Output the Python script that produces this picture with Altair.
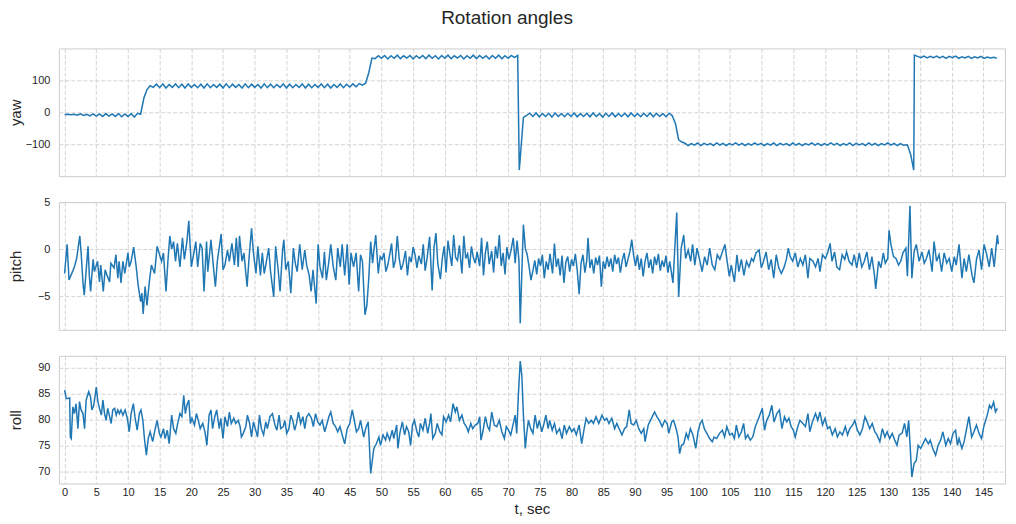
import altair as alt
import pandas as pd

FONT = "Liberation Sans"
LINE = "#1f77b4"
TEXT = "#262626"

# x axis
x_ticks = list(range(0, 150, 5))
x_domain = [-0.9, 148.4]

# yaw: segments (start time, values sampled every yaw_step seconds)
yaw_step = 0.5
yaw_segments = [
    (0.0, [-6, -5, -7, -5, -8, -4, -9, -5, -10, -4, -11, -4, -12, -3, -11, -4, -12, -3, -13, -4,
           -12, -3, -14, -2, -5]),
    (12.5, [45, 72, 84]),
    (14.0, [79, 89, 78, 90, 77, 88, 79, 90, 78, 89, 77, 90, 79, 88, 78, 89, 77, 90, 78, 88,
            79, 89, 77, 90, 78, 89, 79, 88, 77, 90, 78, 89, 79, 88, 77, 90, 78, 89, 78, 88,
            79, 90, 77, 89, 78, 88, 79, 90, 77, 89, 78, 88, 79, 90, 78, 89, 77, 88, 79, 90,
            78, 89, 80, 90, 81, 91]),
    (47.0, [86, 92, 125, 171]),
    (49.0, [169, 178, 170, 179, 168, 178, 170, 180, 169, 178, 171, 179, 168, 178, 170, 179,
            169, 180, 170, 178, 168, 179, 170, 180, 169, 178, 171, 179, 168, 178, 170, 180,
            169, 179, 170, 178, 168, 179, 170, 180, 169, 178, 170, 179, 172, 179]),
    (71.75, [-180]),
    (72.4, [-15, -9]),
    (73.4, [-2, -12, -1, -13, -3, -12, -2, -14, -1, -12, -3, -13, -2, -12, -1, -13, -3, -12,
            -2, -13, -1, -12, -3, -14, -2, -12, -1, -13, -3, -12, -2, -13, -1, -12, -3, -13,
            -2, -12, -1, -13, -2, -12, -3, -13, -2, -10]),
    (96.4, [-35, -85, -92]),
    (97.9, [-96, -103, -97, -102, -95, -103, -96, -101, -97, -103, -95, -102, -96, -103, -97, -101,
            -95, -102, -96, -103, -97, -102, -95, -101, -96, -103, -97, -102, -95, -103, -96, -101,
            -97, -103, -95, -102, -96, -103, -97, -101, -95, -102, -96, -103, -97, -102, -95, -101,
            -96, -103, -97, -102, -95, -103, -96, -101, -97, -103, -95, -102, -96, -103, -97, -101,
            -95, -102, -96, -103, -97, -102]),
    (133.0, [-101, -130, -180]),
    (134.1, [180, 176, 172, 177, 171, 176, 172, 177, 171, 176, 170, 176, 172, 177, 170, 175,
             171, 176, 170, 175, 171, 176, 170, 174, 171, 173, 170]),
]

# pitch readings (t, degrees)
pitch = [
    (0.0, -2.6), (0.4, 0.5), (0.7, -3.3), (1.0, -2.8), (1.5, -2.0), (1.9, -1.0), (2.4, 1.4),
    (2.6, -0.3), (2.9, -3.6), (3.1, -4.9), (3.7, 0.3), (3.9, -2.8), (4.1, -4.5), (4.5, -1.1),
    (4.7, -2.4), (5.2, -1.3), (5.5, -3.5), (5.7, -1.7), (6.1, -4.5), (6.4, -2.2), (6.7, -2.8),
    (7.1, -3.5), (7.3, -1.5), (7.8, -2.0), (8.1, -0.6), (8.4, -3.1), (8.6, -1.3), (8.9, -3.6),
    (9.2, -1.3), (9.5, -2.6), (10.0, -0.4), (10.2, -1.9), (10.5, -1.3), (10.9, 0.2), (11.3, -1.9),
    (11.6, -3.8), (12.0, -5.6), (12.2, -4.7), (12.4, -6.9), (12.7, -4.0), (13.0, -6.0), (13.4, -3.3),
    (13.7, -1.7), (14.2, -2.6), (14.6, 0.3), (14.9, -0.4), (15.3, -1.3), (15.6, -0.4), (16.0, -4.5),
    (16.3, -1.3), (16.6, 1.4), (16.9, 0.0), (17.2, 0.8), (17.5, -1.3), (17.8, 0.6), (18.2, -1.9),
    (18.6, 1.2), (18.9, -1.1), (19.3, 0.8), (19.6, 3.0), (19.8, 0.5), (20.0, -1.9), (20.4, -0.4),
    (20.7, 0.8), (21.0, -1.9), (21.4, 0.6), (21.7, 0.1), (22.0, -4.5), (22.4, 0.8), (22.6, -2.4),
    (23.1, 1.0), (23.5, -2.0), (23.8, -4.0), (24.1, -1.3), (24.7, 1.6), (25.0, -2.2), (25.3, -1.7),
    (25.7, -0.1), (26.0, -1.3), (26.4, 0.6), (26.8, -1.7), (27.1, 1.2), (27.4, -1.9), (27.6, 1.4),
    (28.0, -1.3), (28.3, -0.4), (28.8, -4.0), (29.1, -1.0), (29.5, 2.2), (29.8, -0.4), (30.2, -2.6),
    (30.5, 0.3), (30.9, -2.8), (31.2, -0.4), (31.5, -2.6), (31.8, -1.5), (32.2, 0.1), (32.5, -2.4),
    (33.0, -5.1), (33.3, 0.3), (33.7, -2.2), (34.0, -4.5), (34.4, -0.1), (34.6, 1.0), (34.9, -2.2),
    (35.3, -1.3), (35.7, -4.7), (36.1, 0.1), (36.4, -1.5), (36.7, -2.4), (37.1, 0.5), (37.5, -2.2),
    (37.9, -0.1), (38.2, -1.7), (38.6, -2.8), (38.9, -4.5), (39.2, -2.2), (39.7, -5.8), (40.0, 0.5),
    (40.3, -1.9), (40.7, -3.1), (41.0, -0.3), (41.3, -3.3), (41.7, -1.3), (42.0, 0.5), (42.4, -1.9),
    (42.8, -3.3), (43.1, 0.1), (43.5, -1.9), (43.8, 0.5), (44.2, -2.8), (44.6, 0.5), (44.9, -3.8),
    (45.2, -0.4), (45.6, -1.9), (46.0, -0.4), (46.4, -4.5), (46.7, -0.6), (47.0, -1.3), (47.4, -7.0),
    (47.7, -6.0), (48.0, -3.1), (48.3, 0.8), (48.6, -1.5), (48.8, -0.2), (49.1, 1.5), (49.5, -2.6),
    (49.8, -0.8), (50.1, -1.1), (50.4, -0.4), (50.7, -2.4), (51.0, -1.7), (51.3, -0.6), (51.6, 0.6),
    (51.9, -2.0), (52.2, -1.2), (52.5, 1.4), (52.8, -1.0), (53.1, -2.2), (53.4, -1.6), (53.8, -0.2),
    (54.1, -2.8), (54.4, -0.8), (54.7, -1.4), (55.0, 0.2), (55.3, -0.6), (55.6, -2.0), (55.9, -0.7),
    (56.3, -1.6), (56.6, 0.5), (56.9, -2.3), (57.2, -1.0), (57.6, 1.3), (58.0, -4.4), (58.3, 0.2),
    (58.6, 1.7), (58.9, -1.6), (59.3, -3.2), (59.6, -1.0), (59.9, 0.3), (60.2, -2.5), (60.5, 0.9),
    (60.8, -0.5), (61.1, -1.8), (61.4, 1.5), (61.7, -0.9), (62.0, -1.2), (62.3, 0.4), (62.7, -2.6),
    (63.0, 1.4), (63.3, -1.0), (63.6, -0.5), (63.9, -2.0), (64.2, 0.3), (64.5, -0.9), (64.8, -1.5),
    (65.1, -0.3), (65.5, -1.8), (65.8, 1.2), (66.1, -2.8), (66.4, -0.4), (66.7, 0.8), (67.0, -1.6),
    (67.4, -0.2), (67.7, -2.5), (68.0, 0.3), (68.3, -1.0), (68.6, 1.5), (68.9, -1.8), (69.2, -0.4),
    (69.5, -2.7), (69.8, 0.2), (70.1, -1.1), (70.4, -0.3), (70.8, 1.2), (71.1, -1.5), (71.4, 0.9),
    (71.7, -1.2), (71.9, -7.9), (72.2, -1.5), (72.4, 2.6), (72.7, 0.1), (73.0, -0.6), (73.3, -1.9),
    (73.6, -3.3), (73.9, -2.3), (74.2, -1.2), (74.5, -2.7), (74.8, -1.0), (75.1, -1.8), (75.4, -0.6),
    (75.7, -3.1), (76.0, -1.3), (76.3, -2.2), (76.6, -0.5), (77.0, -2.6), (77.3, 0.6), (77.6, -1.9),
    (77.9, -1.0), (78.2, -2.8), (78.5, -0.7), (78.8, -3.6), (79.1, -1.4), (79.4, -0.8), (79.7, -2.4),
    (80.0, -1.1), (80.3, -1.8), (80.6, -0.5), (80.9, -2.3), (81.2, -4.8), (81.5, -1.5), (81.8, -0.6),
    (82.1, -2.5), (82.4, -1.2), (82.6, 1.2), (82.9, -2.0), (83.2, -1.1), (83.5, -2.6), (83.8, -0.9),
    (84.1, -1.7), (84.4, -0.7), (84.7, -4.0), (85.0, -1.3), (85.3, -2.1), (85.6, -0.8), (85.9, -1.9),
    (86.2, -1.0), (86.5, -2.4), (86.8, -0.6), (87.1, -1.6), (87.4, -0.9), (87.7, -2.5), (88.0, -1.2),
    (88.3, -0.4), (88.6, -1.9), (88.9, -1.1), (89.2, -0.3), (89.5, 1.0), (89.8, -0.7), (90.1, -1.8),
    (90.4, -0.6), (90.7, -2.2), (91.0, -1.0), (91.3, -2.9), (91.6, -1.3), (91.9, -0.4), (92.2, -2.0),
    (92.5, -1.1), (92.8, -2.6), (93.1, -0.8), (93.4, -1.7), (93.7, -0.5), (94.0, -2.3), (94.3, -1.2),
    (94.6, -1.9), (94.9, -0.7), (95.2, -2.5), (95.5, -1.3), (96.0, -3.6), (96.6, 3.9), (96.9, -5.1),
    (97.3, 0.1), (97.7, 1.5), (98.0, -1.0), (98.4, -0.1), (98.8, -1.3), (99.1, 0.5), (99.45, -1.7),
    (99.8, 0.1), (100.2, -1.1), (100.6, -2.4), (101.0, -0.8), (101.4, -1.7), (101.8, 0.1), (102.2, -1.7),
    (102.6, -2.2), (103.0, -0.6), (103.4, -1.1), (103.8, -0.3), (104.2, 0.5), (104.55, -1.3), (104.9, -2.9),
    (105.2, -1.7), (105.7, -3.5), (106.1, -0.6), (106.4, -2.4), (106.8, -1.1), (107.2, -2.8), (107.6, -1.3),
    (108.0, -1.9), (108.4, -1.0), (108.7, -1.3), (109.1, -0.4), (109.6, -0.1), (109.95, -2.0), (110.3, -1.3),
    (110.7, -0.3), (111.1, -2.2), (111.5, -1.1), (111.9, -3.1), (112.3, -0.6), (112.7, -2.0), (113.1, -2.6),
    (113.5, -2.0), (113.9, -1.1), (114.2, 0.1), (114.5, -0.8), (114.9, -1.3), (115.3, -0.4), (115.7, -1.9),
    (116.1, -1.0), (116.5, -1.7), (116.9, -0.6), (117.3, -3.1), (117.6, -1.0), (118.1, -1.3), (118.5, -1.9),
    (118.9, -1.0), (119.2, -2.4), (119.6, -0.6), (120.05, -1.0), (120.4, -0.4), (120.8, 0.6), (121.1, -1.3),
    (121.5, -0.3), (121.85, -1.9), (122.3, -2.2), (122.7, -0.6), (123.1, -1.1), (123.4, -0.3), (123.8, -1.3),
    (124.25, -1.7), (124.6, -0.6), (125.0, -2.0), (125.4, -0.4), (125.8, -1.9), (126.2, -1.3), (126.6, -0.3),
    (127.0, -2.2), (127.4, -0.8), (127.8, -2.8), (128.0, -4.25), (128.45, -1.3), (128.8, -2.0), (129.2, -0.4),
    (129.5, -1.5), (129.9, -1.0), (130.1, 2.0), (130.4, 0.5), (130.8, -0.8), (131.2, -1.0), (131.6, -1.7),
    (131.95, -1.3), (132.3, -0.4), (132.75, 0.1), (133.0, -2.9), (133.4, 4.6), (133.7, -3.1), (134.05, -0.3),
    (134.4, 0.5), (134.85, -1.3), (135.3, -0.3), (135.65, -1.5), (136.0, -1.0), (136.4, -0.1), (136.9, -2.4),
    (137.2, 0.8), (137.6, -1.3), (138.0, -0.6), (138.4, -2.4), (138.8, -0.4), (139.2, -1.5), (139.6, -1.0),
    (140.0, -2.4), (140.4, -0.8), (140.7, -1.7), (141.15, 0.5), (141.6, -3.1), (141.95, -1.0), (142.3, -2.4),
    (142.7, -0.6), (143.2, -2.8), (143.5, -3.6), (143.9, -1.1), (144.3, -0.1), (144.7, -2.2), (145.1, 0.5),
    (145.45, -0.4), (145.9, -1.9), (146.3, 0.1), (146.7, -1.9), (147.0, 0.3), (147.2, 1.5), (147.35, 0.5),
]

# roll readings (t, degrees)
roll = [
    (0.0, 85.7), (0.25, 84.1), (0.5, 84.1), (0.8, 84.2), (0.9, 76.7), (1.05, 76.4), (1.3, 82.5),
    (1.55, 81.2), (1.8, 83.1), (2.1, 78.3), (2.35, 83.5), (2.6, 81.9), (2.9, 81.2), (3.15, 78.3),
    (3.4, 83.8), (3.8, 85.4), (4.1, 84.4), (4.3, 81.9), (4.6, 82.8), (5.0, 86.3), (5.25, 83.5),
    (5.5, 82.2), (5.8, 80.9), (6.05, 83.8), (6.3, 81.2), (6.55, 79.9), (6.8, 82.2), (7.05, 80.9),
    (7.35, 79.3), (7.6, 81.9), (7.9, 82.2), (8.15, 80.9), (8.4, 81.9), (8.65, 81.2), (8.9, 81.9),
    (9.2, 80.9), (9.55, 81.9), (9.9, 80.3), (10.2, 77.7), (10.5, 81.2), (10.85, 83.1), (11.1, 80.6),
    (11.45, 78.0), (11.8, 81.2), (12.05, 81.9), (12.35, 79.9), (12.6, 76.4), (12.9, 73.2), (13.2, 76.4),
    (13.5, 77.7), (13.9, 75.8), (14.25, 78.0), (14.6, 79.9), (14.95, 77.4), (15.2, 76.7), (15.6, 78.3),
    (15.85, 76.4), (16.2, 78.0), (16.5, 75.4), (16.9, 80.9), (17.2, 78.3), (17.55, 77.4), (17.85, 79.3),
    (18.2, 81.2), (18.5, 80.6), (18.8, 84.7), (19.05, 81.2), (19.3, 82.8), (19.6, 83.8), (19.85, 79.3),
    (20.1, 80.3), (20.5, 79.0), (20.8, 81.2), (21.1, 79.9), (21.4, 78.3), (21.8, 79.3), (22.15, 77.7),
    (22.45, 75.1), (22.8, 80.9), (23.1, 81.9), (23.35, 78.3), (23.7, 80.6), (24.0, 81.9), (24.4, 78.3),
    (24.65, 80.3), (25.0, 76.4), (25.3, 80.6), (25.7, 78.7), (26.0, 81.5), (26.3, 79.3), (26.7, 80.3),
    (27.0, 79.3), (27.4, 79.9), (27.7, 78.7), (27.9, 76.7), (28.2, 77.4), (28.6, 78.7), (28.85, 80.9),
    (29.2, 79.3), (29.5, 76.7), (29.8, 79.6), (30.1, 78.3), (30.45, 76.7), (30.75, 80.9), (31.05, 78.3),
    (31.4, 77.1), (31.75, 79.6), (32.0, 78.3), (32.4, 80.6), (32.8, 81.2), (33.2, 79.0), (33.5, 78.0),
    (33.85, 80.9), (34.1, 78.3), (34.5, 78.7), (34.75, 79.9), (35.05, 77.4), (35.4, 78.3), (35.7, 80.9),
    (36.0, 79.9), (36.3, 78.0), (36.6, 79.3), (36.9, 81.5), (37.25, 79.3), (37.6, 80.6), (37.9, 78.3),
    (38.2, 80.6), (38.55, 81.2), (38.95, 80.3), (39.25, 78.7), (39.6, 81.2), (39.95, 79.6), (40.3, 79.0),
    (40.65, 79.9), (41.05, 77.7), (41.35, 79.0), (41.7, 80.6), (42.0, 81.5), (42.4, 79.3), (42.75, 78.7),
    (43.1, 77.7), (43.45, 78.7), (43.8, 77.1), (44.2, 75.4), (44.6, 78.3), (45.0, 79.3), (45.4, 81.9),
    (45.65, 80.3), (46.05, 77.7), (46.4, 78.3), (46.7, 79.9), (47.2, 76.7), (47.5, 78.3), (47.9, 79.6),
    (48.05, 76.4), (48.3, 69.7), (48.5, 71.6), (48.8, 74.5), (49.2, 75.4), (49.6, 76.7), (49.85, 75.1),
    (50.25, 77.1), (50.65, 76.1), (50.9, 77.4), (51.3, 76.1), (51.7, 78.0), (51.95, 76.4), (52.4, 79.0),
    (52.6, 74.5), (52.9, 77.4), (53.3, 79.6), (53.65, 77.1), (53.95, 78.7), (54.3, 77.7), (54.6, 75.1),
    (54.9, 79.0), (55.2, 79.9), (55.6, 77.7), (55.9, 76.7), (56.15, 79.3), (56.55, 78.0), (56.9, 80.3),
    (57.3, 77.4), (57.6, 79.3), (57.8, 81.2), (58.1, 76.4), (58.5, 77.4), (58.8, 79.3), (59.2, 77.7),
    (59.55, 77.1), (59.8, 80.6), (60.2, 79.6), (60.6, 80.9), (60.9, 79.6), (61.3, 83.1), (61.65, 81.5),
    (61.9, 82.5), (62.3, 79.9), (62.7, 80.9), (63.05, 79.3), (63.4, 78.7), (63.7, 77.7), (64.1, 79.3),
    (64.4, 78.3), (64.8, 79.0), (65.2, 79.3), (65.5, 80.6), (65.7, 76.1), (66.0, 77.7), (66.4, 80.6),
    (66.75, 78.7), (67.05, 78.0), (67.4, 81.5), (67.8, 79.0), (68.2, 78.7), (68.6, 79.9), (69.0, 77.7),
    (69.4, 76.4), (69.7, 78.7), (70.05, 78.0), (70.4, 77.1), (70.7, 78.7), (71.1, 80.9), (71.35, 77.4),
    (71.6, 84.7), (71.9, 91.3), (72.15, 88.6), (72.4, 80.9), (72.7, 74.5), (72.95, 77.7), (73.2, 79.9),
    (73.55, 78.3), (73.9, 77.4), (74.25, 80.9), (74.6, 78.3), (74.9, 79.9), (75.3, 77.7), (75.65, 79.3),
    (75.95, 80.9), (76.3, 78.3), (76.55, 79.9), (76.95, 78.0), (77.3, 79.3), (77.65, 77.4), (78.1, 78.3),
    (78.5, 76.4), (78.85, 79.0), (79.2, 77.4), (79.65, 78.7), (80.05, 77.7), (80.4, 78.3), (80.75, 77.1),
    (81.2, 79.0), (81.6, 75.4), (81.95, 78.0), (82.3, 80.3), (82.7, 79.3), (83.1, 79.9), (83.45, 79.3),
    (83.85, 80.6), (84.3, 79.3), (84.8, 80.9), (85.2, 79.9), (85.55, 80.3), (85.9, 79.3), (86.35, 80.3),
    (86.8, 78.3), (87.15, 79.3), (87.5, 78.3), (87.95, 77.1), (88.35, 78.3), (88.7, 78.7), (89.1, 81.9),
    (89.4, 79.3), (89.8, 79.0), (90.2, 79.9), (90.6, 78.3), (91.0, 77.4), (91.4, 78.3), (91.6, 75.8),
    (92.1, 79.0), (92.45, 79.9), (92.85, 80.9), (93.1, 81.5), (93.45, 80.6), (93.85, 79.9), (94.3, 78.7),
    (94.7, 79.9), (95.1, 79.3), (95.35, 77.4), (95.8, 79.6), (96.1, 79.9), (96.5, 78.3), (96.8, 76.7),
    (97.05, 73.5), (97.35, 75.1), (97.7, 75.4), (98.1, 77.4), (98.4, 76.4), (98.75, 78.3), (99.15, 77.1),
    (99.6, 74.5), (99.95, 77.7), (100.3, 79.3), (100.6, 79.9), (100.95, 78.3), (101.35, 77.4), (101.8, 76.4),
    (102.2, 75.8), (102.5, 76.7), (102.9, 76.4), (103.35, 77.4), (103.8, 78.0), (104.15, 76.7), (104.5, 78.7),
    (104.95, 77.1), (105.35, 77.4), (105.7, 76.4), (106.0, 79.0), (106.4, 76.7), (106.8, 77.7), (107.15, 79.3),
    (107.45, 76.4), (107.8, 77.1), (108.2, 76.1), (108.6, 76.7), (109.0, 78.7), (109.4, 79.9), (109.8, 81.2),
    (110.1, 82.2), (110.45, 78.0), (110.8, 79.9), (111.2, 80.9), (111.6, 82.8), (111.95, 79.6), (112.4, 81.2),
    (112.8, 81.9), (113.2, 78.3), (113.6, 80.6), (113.95, 79.6), (114.3, 80.3), (114.65, 78.7), (115.0, 78.0),
    (115.3, 76.7), (115.7, 78.7), (116.05, 79.9), (116.5, 79.3), (116.9, 78.7), (117.3, 81.2), (117.6, 77.7),
    (118.0, 79.6), (118.5, 81.2), (118.85, 79.9), (119.2, 81.5), (119.6, 79.0), (120.0, 80.3), (120.4, 78.3),
    (120.75, 78.7), (121.15, 77.1), (121.6, 78.3), (121.95, 76.7), (122.35, 77.7), (122.75, 77.1), (123.2, 78.7),
    (123.55, 77.1), (123.9, 78.3), (124.35, 79.0), (124.7, 79.9), (125.1, 78.0), (125.5, 77.1), (125.9, 78.3),
    (126.3, 80.6), (126.65, 79.6), (127.05, 78.3), (127.45, 79.3), (127.85, 77.7), (128.2, 77.1), (128.65, 75.8),
    (129.05, 78.3), (129.45, 76.7), (129.8, 77.7), (130.2, 76.4), (130.6, 77.4), (131.0, 76.1), (131.35, 75.1),
    (131.7, 77.1), (132.15, 77.4), (132.55, 79.3), (132.9, 76.7), (133.2, 79.9), (133.45, 74.5), (133.7, 69.0),
    (134.05, 71.6), (134.4, 72.2), (134.7, 75.1), (135.1, 74.5), (135.45, 75.4), (135.85, 76.4), (136.3, 75.4),
    (136.6, 76.1), (137.0, 74.5), (137.45, 73.2), (137.85, 75.1), (138.25, 76.1), (138.6, 77.7), (139.05, 75.1),
    (139.45, 76.4), (139.8, 75.4), (140.2, 77.4), (140.6, 78.0), (140.9, 75.1), (141.15, 76.4), (141.6, 74.5),
    (141.95, 75.8), (142.3, 78.0), (142.7, 80.6), (143.15, 76.7), (143.5, 77.7), (143.9, 79.0), (144.3, 77.4),
    (144.7, 76.4), (145.05, 78.7), (145.35, 79.9), (145.6, 80.9), (145.95, 82.8), (146.25, 82.2), (146.6, 83.4),
    (146.9, 81.5), (147.2, 82.2),
]

yaw_ticks = [-100, 0, 100]
pitch_ticks = [-5, 0, 5]
roll_ticks = [70, 75, 80, 85, 90]
yaw_domain = [-199, 201]
pitch_domain = [-8.6, 5.0]
roll_domain = [67.75, 92.3]

yaw_rows = []
for start, vals in yaw_segments:
    for i, v in enumerate(vals):
        yaw_rows.append((round(start + yaw_step * i, 3), v))

W, H = 948, 128


def panel(rows, name, domain, ticks, bottom):
    df = pd.DataFrame(rows, columns=["t", "v"])
    if bottom:
        x_axis = alt.Axis(values=x_ticks, title="t, sec", labelPadding=3, titlePadding=4,
                          labelFlush=False)
    else:
        x_axis = alt.Axis(values=x_ticks, title=None, labels=False, labelPadding=0)
    return (
        alt.Chart(df)
        .mark_line(color=LINE, strokeWidth=1.5, clip=True)
        .encode(
            x=alt.X("t:Q", scale=alt.Scale(domain=x_domain, nice=False, zero=False), axis=x_axis),
            y=alt.Y("v:Q", scale=alt.Scale(domain=domain, nice=False, zero=False),
                    axis=alt.Axis(values=ticks, title=name, titleX=-38, titleBaseline="alphabetic",
                                  labelPadding=9)),
        )
        .properties(width=W, height=H)
    )


chart = (
    alt.vconcat(
        panel(yaw_rows, "yaw", yaw_domain, yaw_ticks, False),
        panel(pitch, "pitch", pitch_domain, pitch_ticks, False),
        panel(roll, "roll", roll_domain, roll_ticks, True),
        spacing=26,
        bounds="flush",
    )
    .properties(
        title=alt.TitleParams("Rotation angles", offset=20),
        padding={"left": 0, "top": 0, "right": 2, "bottom": 0},
    )
    .configure_axis(
        labelFont=FONT, titleFont=FONT, labelFontSize=11, titleFontSize=15,
        labelColor=TEXT, titleColor=TEXT, titleFontWeight="normal",
        gridColor="#d3d3d3", gridDash=[4, 2], gridWidth=1,
        domain=False, ticks=False, tickSize=0,
    )
    .configure_view(stroke="#cccccc", strokeWidth=1)
    .configure_title(font=FONT, fontSize=19, fontWeight="normal", color=TEXT, anchor="middle")
)

chart.save("out.html", embed_options={"renderer": "svg", "actions": False})
